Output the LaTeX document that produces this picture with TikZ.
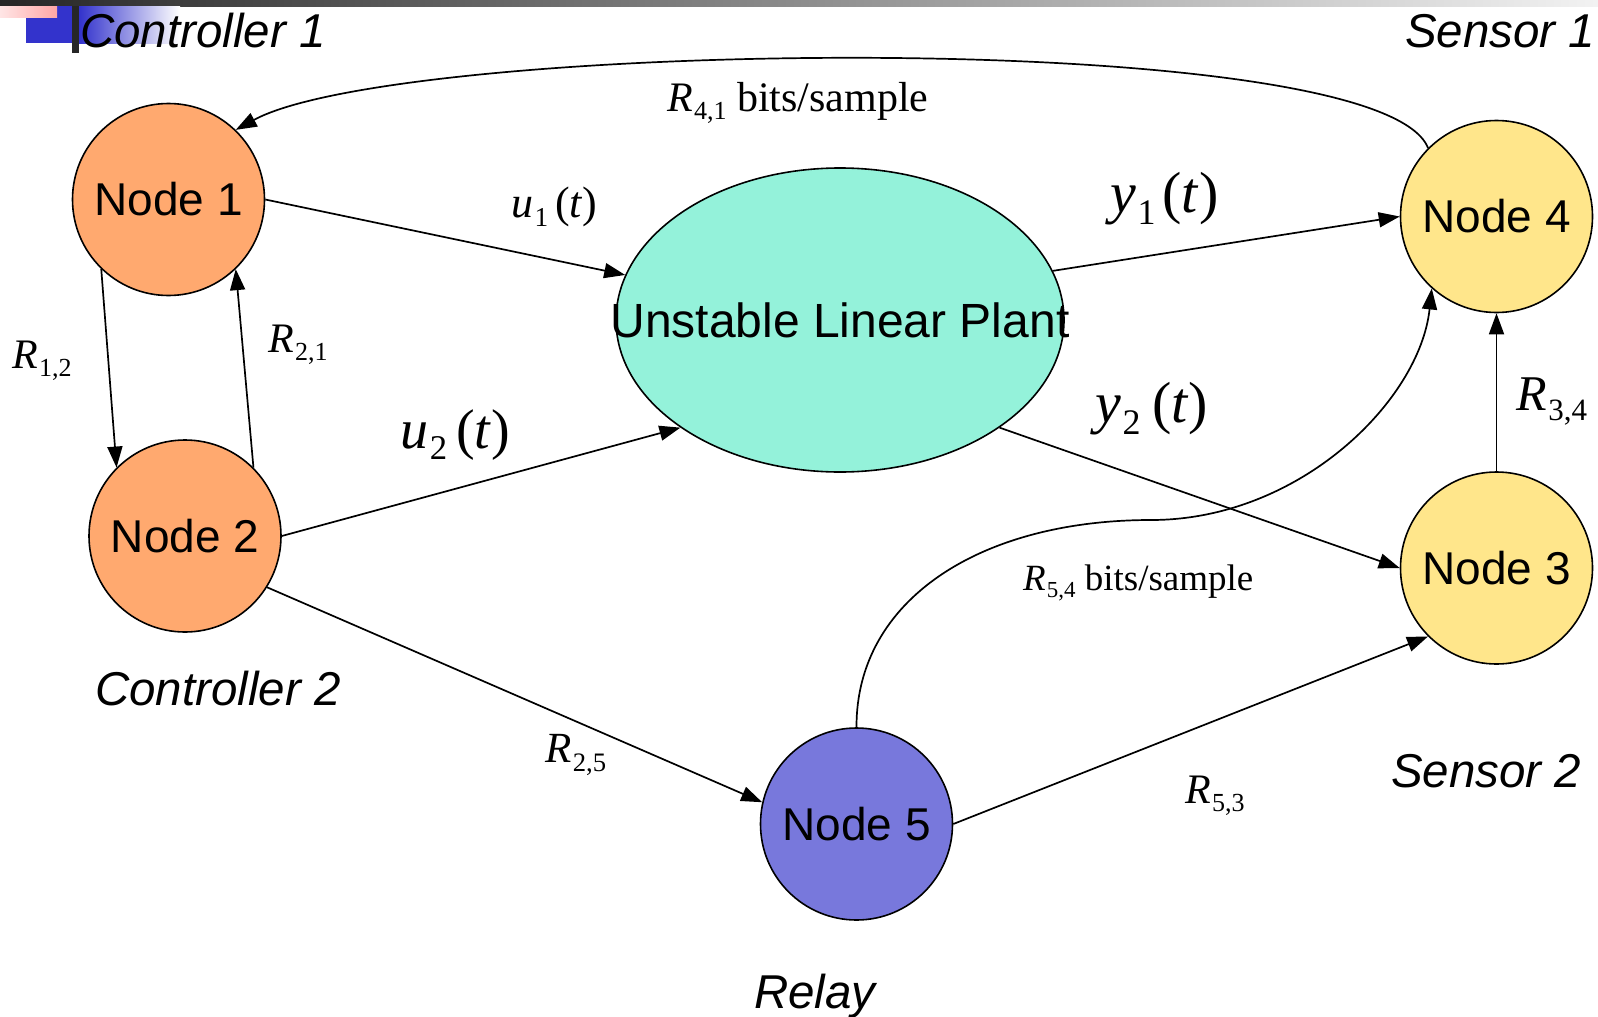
\documentclass[tikz,border=0pt]{standalone}
\usepackage{fontspec}
\usepackage{graphicx}
\setmainfont{Liberation Serif}
\setsansfont{Liberation Sans}
\usetikzlibrary{arrows.meta,shapes.geometric}

\definecolor{ctrlfill}{HTML}{FFA96F}
\definecolor{sensfill}{HTML}{FFE68B}
\definecolor{relayfill}{HTML}{7878DC}
\definecolor{plantfill}{HTML}{94F2DA}
\definecolor{barblue}{HTML}{3333CC}

% symbol with an upright subscript
\newcommand\sbs[2]{#1\kern0.03em\raisebox{-0.21em}{\scalebox{0.62}{#2}}}

\tikzset{
  netnode/.style={circle, draw, line width=1.6pt, minimum size=192pt, inner sep=0pt,
                  font=\sffamily\fontsize{46}{50}\selectfont},
  link/.style={line width=1.7pt, -{Triangle[length=21pt,width=15pt]}},
  role/.style={anchor=base west, inner sep=0pt, font=\sffamily\itshape\fontsize{47.5}{50}\selectfont},
  rate/.style={anchor=base west, inner sep=0pt},
}

\begin{document}
\begin{tikzpicture}[x=1pt,y=-1pt]
\useasboundingbox (0,0) rectangle (1598,1017);

% slide header decoration
\shade[left color=black!85, right color=black!5] (0,0) rectangle (1598,6);
\shade[left color=barblue, right color=white] (79,6) rectangle (180,43);
\fill[barblue] (26,6) rectangle (75,43);
\shade[left color=red!10, right color=red!35] (0,6) rectangle (57,17);
\fill[black!85] (72,6) rectangle (79,53);

% plant
\node[ellipse, draw, line width=1.6pt, fill=plantfill, minimum width=448pt, minimum height=304pt,
      inner sep=0pt] (plant) at (840,320) {};
\node[font=\sffamily\fontsize{48}{50}\selectfont, inner sep=0pt] (plantname) at (plant.center) {Unstable Linear Plant};

% network nodes
\node[netnode, fill=ctrlfill]  (n1) at (168.5,199.5) {Node 1};
\node[netnode, fill=ctrlfill]  (n2) at (185,536)     {Node 2};
\node[netnode, fill=sensfill]  (n3) at (1496.5,568)  {Node 3};
\node[netnode, fill=sensfill]  (n4) at (1496.5,216.5){Node 4};
\node[netnode, fill=relayfill] (n5) at (856.5,824)   {Node 5};

% roles
\node[role] (c1) at (80,47)    {Controller 1};
\node[role] (s1) at (1405,47)  {Sensor 1};
\node[role] (c2) at (95,705)   {Controller 2};
\node[role] (s2) at (1391,787) {Sensor 2};
\node[role] (rl) at (754,1008) {Relay};

% links
\coordinate (bend) at (1151,520);
\draw[link] (n1.east) -- (plant);
\draw[link] (n2.east) -- (plant.214);
\draw[link] (plant.13) -- (n4.west);
\draw[link] (plant.-34) -- (n3.west);
\draw[link] (n1.226) -- (n2.135);
\draw[link] (n2.45) -- (n1.314);
\draw[link] (n3.north) -- (n4.south);
\draw[link] (n2.-32) -- (n5.167);
\draw[link] (n5.east) -- (n3.225);
\draw[link] (n4.135) .. controls (1380,25) and (400,40) .. (n1.46);
\draw[link] (n5.north) .. controls (856,600) and (980,520) .. (bend)
            .. controls (1300,520) and (1420,400) .. (n4.228);

% signal and rate labels
\node[rate, font=\fontsize{44}{44}\selectfont] (lu1) at (511,217) {\sbs{\textit{u}}{1}\kern0.16em(\textit{t})};
\node[rate, font=\fontsize{56}{56}\selectfont] (lu2) at (400,448) {\sbs{\textit{u}}{2}\kern0.16em(\textit{t})};
\node[rate, font=\fontsize{58}{58}\selectfont] (ly1) at (1110,212) {\sbs{\textit{y}}{1}\kern0.12em(\textit{t})};
\node[rate, font=\fontsize{58}{58}\selectfont] (ly2) at (1095,422) {\sbs{\textit{y}}{2}\kern0.2em(\textit{t})};

\node[rate, font=\fontsize{42}{42}\selectfont] (r41) at (667,111)  {\sbs{\textit{R}}{4,1} bits/sample};
\node[rate, font=\fontsize{37}{37}\selectfont] (r54) at (1023,590) {\sbs{\textit{R}}{5,4} bits/sample};
\node[rate, font=\fontsize{42}{42}\selectfont] (r12) at (12,368)   {\sbs{\textit{R}}{1,2}};
\node[rate, font=\fontsize{42}{42}\selectfont] (r21) at (268,352)  {\sbs{\textit{R}}{2,1}};
\node[rate, font=\fontsize{50}{50}\selectfont] (r34) at (1516,410) {\sbs{\textit{R}}{3,4}};
\node[rate, font=\fontsize{43}{43}\selectfont] (r25) at (545,762)  {\sbs{\textit{R}}{2,5}};
\node[rate, font=\fontsize{42}{42}\selectfont] (r53) at (1185,803) {\sbs{\textit{R}}{5,3}};
\end{tikzpicture}
\end{document}
